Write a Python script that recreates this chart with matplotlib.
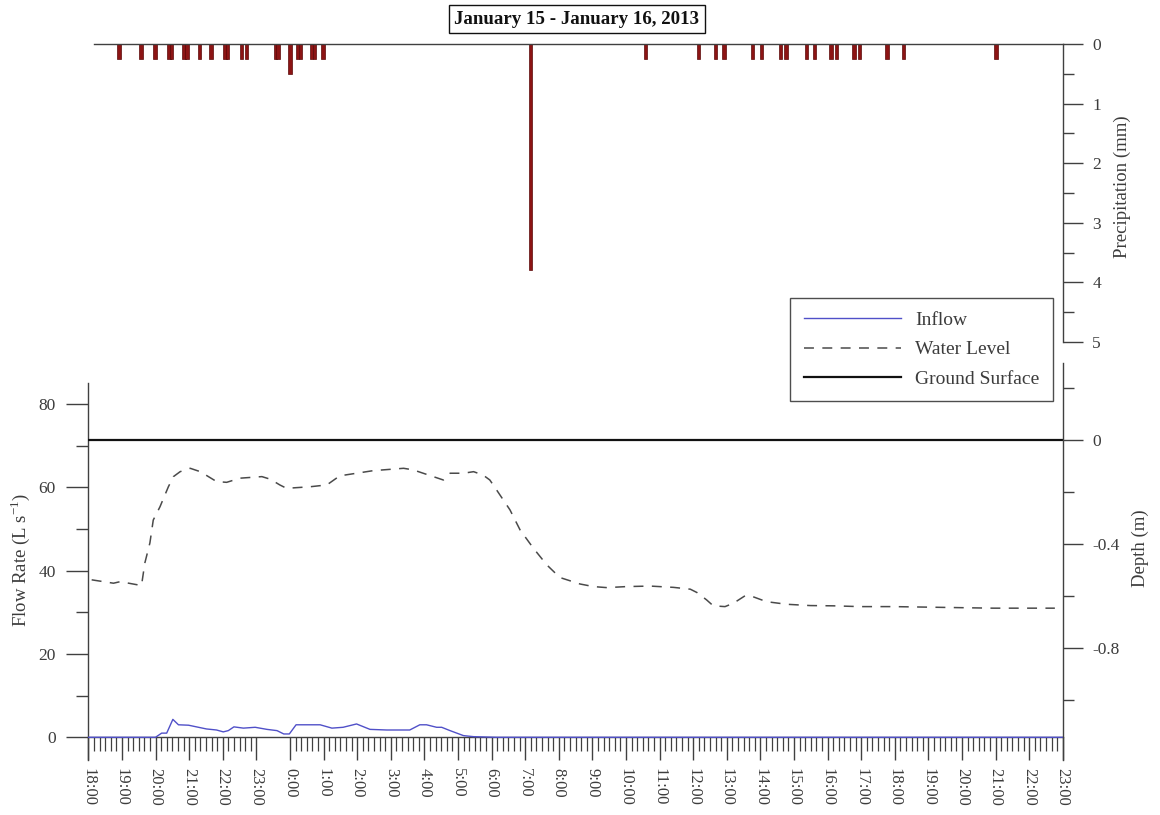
import matplotlib
matplotlib.use("Agg")
import matplotlib.pyplot as plt
import matplotlib.dates as mdates
from matplotlib.lines import Line2D
from matplotlib.ticker import FixedLocator, MultipleLocator, FuncFormatter
import pandas as pd

plt.rcParams["font.family"] = ["Liberation Serif", "DejaVu Serif"]
plt.rcParams["axes.unicode_minus"] = False
TXT = "#3c3c3c"
AX = "#404040"

# ---------------- data ----------------
t_start = "2013-01-15 18:00"
t_end = "2013-01-16 23:00"

rain_times = [
    "2013-01-15 18:55", "2013-01-15 19:34", "2013-01-15 19:59",
    "2013-01-15 20:24", "2013-01-15 20:29", "2013-01-15 20:51", "2013-01-15 20:56",
    "2013-01-15 21:19", "2013-01-15 21:39", "2013-01-15 22:04", "2013-01-15 22:09",
    "2013-01-15 22:34", "2013-01-15 22:43", "2013-01-15 23:34", "2013-01-15 23:39",
    "2013-01-16 00:00", "2013-01-16 00:14", "2013-01-16 00:19", "2013-01-16 00:39",
    "2013-01-16 00:44", "2013-01-16 00:59", "2013-01-16 07:10", "2013-01-16 10:35",
    "2013-01-16 12:10", "2013-01-16 12:40", "2013-01-16 12:55", "2013-01-16 13:46",
    "2013-01-16 14:02", "2013-01-16 14:36", "2013-01-16 14:46", "2013-01-16 15:22",
    "2013-01-16 15:37", "2013-01-16 16:06", "2013-01-16 16:16", "2013-01-16 16:47",
    "2013-01-16 16:57", "2013-01-16 17:46", "2013-01-16 18:16", "2013-01-16 21:01",
]
rain_mm = [
    0.25, 0.25, 0.25,
    0.25, 0.25, 0.25, 0.25,
    0.25, 0.25, 0.25, 0.25,
    0.25, 0.25, 0.25, 0.25,
    0.5, 0.25, 0.25, 0.25,
    0.25, 0.25, 3.8, 0.25,
    0.25, 0.25, 0.25, 0.25,
    0.25, 0.25, 0.25, 0.25,
    0.25, 0.25, 0.25, 0.25,
    0.25, 0.25, 0.25, 0.25,
]

flow_times = [
    "2013-01-15 18:00", "2013-01-15 20:00", "2013-01-15 20:11", "2013-01-15 20:20",
    "2013-01-15 20:31", "2013-01-15 20:41", "2013-01-15 20:59", "2013-01-15 21:31",
    "2013-01-15 21:49", "2013-01-15 22:01", "2013-01-15 22:10", "2013-01-15 22:20",
    "2013-01-15 22:37", "2013-01-15 22:58", "2013-01-15 23:19", "2013-01-15 23:37",
    "2013-01-15 23:49", "2013-01-15 23:59", "2013-01-16 00:11", "2013-01-16 00:54",
    "2013-01-16 01:15", "2013-01-16 01:35", "2013-01-16 01:59", "2013-01-16 02:23",
    "2013-01-16 02:53", "2013-01-16 03:34", "2013-01-16 03:52", "2013-01-16 04:04",
    "2013-01-16 04:22", "2013-01-16 04:31", "2013-01-16 04:46", "2013-01-16 05:10",
    "2013-01-16 05:28", "2013-01-16 06:09", "2013-01-16 23:00",
]
flow_lps = [
    0.0, 0.0, 1.0, 1.0,
    4.3, 3.0, 2.9, 2.0,
    1.75, 1.3, 1.6, 2.5,
    2.2, 2.4, 1.9, 1.6,
    0.8, 0.8, 3.0, 3.0,
    2.2, 2.4, 3.2, 1.9,
    1.75, 1.75, 3.0, 3.0,
    2.4, 2.4, 1.6, 0.4,
    0.15, 0.0, 0.0,
]

level_times = [
    "2013-01-15 18:06", "2013-01-15 18:45", "2013-01-15 18:57", "2013-01-15 19:35",
    "2013-01-15 19:41", "2013-01-15 19:50", "2013-01-15 19:56", "2013-01-15 20:08",
    "2013-01-15 20:23", "2013-01-15 20:32", "2013-01-15 20:44", "2013-01-15 21:02",
    "2013-01-15 21:20", "2013-01-15 21:49", "2013-01-15 22:07", "2013-01-15 22:31",
    "2013-01-15 23:10", "2013-01-15 23:25", "2013-01-15 23:42", "2013-01-15 23:54",
    "2013-01-16 00:36", "2013-01-16 01:06", "2013-01-16 01:29", "2013-01-16 01:59",
    "2013-01-16 02:29", "2013-01-16 02:59", "2013-01-16 03:23", "2013-01-16 03:40",
    "2013-01-16 04:16", "2013-01-16 04:34", "2013-01-16 04:46", "2013-01-16 05:10",
    "2013-01-16 05:28", "2013-01-16 05:45", "2013-01-16 05:57", "2013-01-16 06:09",
    "2013-01-16 06:33", "2013-01-16 06:51", "2013-01-16 07:15", "2013-01-16 07:39",
    "2013-01-16 08:02", "2013-01-16 08:38", "2013-01-16 09:02", "2013-01-16 09:26",
    "2013-01-16 10:01", "2013-01-16 10:43", "2013-01-16 11:25", "2013-01-16 11:55",
    "2013-01-16 12:07", "2013-01-16 12:24", "2013-01-16 12:36", "2013-01-16 12:57",
    "2013-01-16 13:12", "2013-01-16 13:33", "2013-01-16 13:47", "2013-01-16 14:11",
    "2013-01-16 14:47", "2013-01-16 15:29", "2013-01-16 16:10", "2013-01-16 16:58",
    "2013-01-16 17:57", "2013-01-16 18:57", "2013-01-16 19:56", "2013-01-16 20:56",
    "2013-01-16 21:56", "2013-01-16 22:46",
]
level_m = [
    -0.538, -0.551, -0.545, -0.560,
    -0.473, -0.396, -0.308, -0.257,
    -0.180, -0.141, -0.122, -0.109,
    -0.122, -0.160, -0.163, -0.147,
    -0.141, -0.151, -0.173, -0.186,
    -0.180, -0.173, -0.138, -0.128,
    -0.118, -0.113, -0.109, -0.115,
    -0.141, -0.154, -0.128, -0.128,
    -0.122, -0.135, -0.154, -0.192,
    -0.269, -0.346, -0.417, -0.481,
    -0.529, -0.554, -0.564, -0.568,
    -0.564, -0.562, -0.567, -0.574,
    -0.587, -0.615, -0.638, -0.641,
    -0.628, -0.599, -0.603, -0.622,
    -0.632, -0.637, -0.638, -0.641,
    -0.641, -0.643, -0.645, -0.647,
    -0.647, -0.647,
]
ground_level_m = 0.0

# ---------------- figure ----------------
W, H = 1160, 815
fig = plt.figure(figsize=(W / 100, H / 100), dpi=100)


def rect(x0, y0, x1, y1):
    return [x0 / W, 1 - y1 / H, (x1 - x0) / W, (y1 - y0) / H]


x0 = mdates.date2num(pd.Timestamp(t_start))
x1 = mdates.date2num(pd.Timestamp(t_end))

# ---- precipitation panel (hanging bars) ----
ax0 = fig.add_axes(rect(88.3, 44, 1062.7, 342))
rt = mdates.date2num(pd.to_datetime(rain_times))
ax0.bar(rt, rain_mm, width=6 / 1440, color="#8c1414", edgecolor="#5a0808",
        linewidth=0.5, align="center")
ax0.set_xlim(x0, x1)
ax0.set_ylim(5, 0)
for s in ("left", "bottom"):
    ax0.spines[s].set_visible(False)
ax0.spines["top"].set_bounds(mdates.date2num(pd.Timestamp("2013-01-15 18:10")), x1)
for s in ("top", "right"):
    ax0.spines[s].set_color(AX)
    ax0.spines[s].set_linewidth(1.0)
ax0.xaxis.set_visible(False)
ax0.yaxis.tick_right()
ax0.yaxis.set_major_locator(MultipleLocator(1))
ax0.yaxis.set_minor_locator(MultipleLocator(0.5))
ax0.tick_params(axis="y", which="major", length=14.4, width=1.0, color=AX,
                pad=7, labelsize=12.5, labelcolor=TXT)
ax0.tick_params(axis="y", which="minor", length=8, width=1.0, color=AX)
ax0.patch.set_alpha(0)

# ---- flow / depth panel ----
ax1 = fig.add_axes(rect(88.3, 363, 1062.7, 760))
ft = mdates.date2num(pd.to_datetime(flow_times))
ax1.plot(ft, flow_lps, color="#5050c8", lw=1.0, zorder=3)
ax1.set_xlim(x0, x1)
ax1.set_ylim(-5.45, 89.83)
ax1.spines["top"].set_visible(False)
ax1.spines["right"].set_visible(False)
ax1.spines["bottom"].set_position(("data", 0))
ax1.spines["left"].set_bounds(-5.45, 85.0)
for s in ("left", "bottom"):
    ax1.spines[s].set_color(AX)
    ax1.spines[s].set_linewidth(1.0)
ax1.yaxis.set_major_locator(FixedLocator([0, 20, 40, 60, 80]))
ax1.yaxis.set_minor_locator(FixedLocator([10, 30, 50, 70]))
ax1.tick_params(axis="y", which="major", length=15.5, width=1.0, color=AX,
                pad=8, labelsize=12.5, labelcolor=TXT)
ax1.tick_params(axis="y", which="minor", length=8.4, width=1.0, color=AX)

ax1.xaxis.set_major_locator(mdates.HourLocator(interval=1))


def hour_label(v, pos):
    d = mdates.num2date(v)
    return f"{d.hour}:{d.minute:02d}"


ax1.xaxis.set_major_formatter(FuncFormatter(hour_label))
minor = pd.date_range(t_start, t_end, freq="10min")
minor = [m for m in minor
         if not (pd.Timestamp("2013-01-15 23:00") < m < pd.Timestamp("2013-01-16 00:00"))]
ax1.xaxis.set_minor_locator(FixedLocator(mdates.date2num(minor)))
ax1.tick_params(axis="x", which="major", length=16.5, width=1.0, color=AX,
                pad=5.5, labelsize=12, labelcolor=TXT, labelrotation=-90)
ax1.tick_params(axis="x", which="minor", length=10, width=0.9, color=AX)

ax2 = ax1.twinx()
lt = mdates.date2num(pd.to_datetime(level_times))
ax2.plot(lt, level_m, color="#4a4a4a", lw=1.1, linestyle=(0, (6.5, 5.5)))
ax2.axhline(ground_level_m, color="#111111", lw=1.6)
ax2.set_ylim(-1.231, 0.296)
for s in ("left", "top", "bottom"):
    ax2.spines[s].set_visible(False)
ax2.spines["right"].set_color(AX)
ax2.spines["right"].set_linewidth(1.0)
ax2.yaxis.set_major_locator(FixedLocator([0, -0.4, -0.8]))
ax2.yaxis.set_minor_locator(FixedLocator([0.2, -0.2, -0.6, -1.0]))
ax2.yaxis.set_major_formatter(FuncFormatter(lambda v, p: f"{v:g}"))
ax2.tick_params(axis="y", which="major", length=14.4, width=1.0, color=AX,
                pad=7, labelsize=12.5, labelcolor=TXT)
ax2.tick_params(axis="y", which="minor", length=8, width=1.0, color=AX)

# ---- axis titles ----
fig.text(20 / W, 1 - 560 / H, r"Flow Rate (L s$^{\mathregular{-1}}$)", rotation=90,
         ha="center", va="center", fontsize=13.5, color=TXT)
fig.text(1140 / W, 1 - 548 / H, "Depth (m)", rotation=90,
         ha="center", va="center", fontsize=13.5, color=TXT)
fig.text(1122 / W, 1 - 187 / H, "Precipitation (mm)", rotation=90,
         ha="center", va="center", fontsize=13.5, color=TXT)

fig.text(577 / W, 1 - 19 / H, "January 15 - January 16, 2013", ha="center",
         va="center", fontsize=13.6, fontweight="bold", color="#111111",
         bbox=dict(boxstyle="square,pad=0.3", facecolor="white",
                   edgecolor="#111111", linewidth=1.0))

# ---- legend ----
handles = [
    Line2D([], [], color="#5050c8", lw=1.0),
    Line2D([], [], color="#4a4a4a", lw=1.1, linestyle=(0, (6.5, 5.5))),
    Line2D([], [], color="#111111", lw=1.6),
]
leg = fig.legend(handles, ["Inflow", "Water Level", "Ground Surface"],
                 loc="upper left", bbox_to_anchor=(790 / W, 1 - 298 / H),
                 fontsize=14, frameon=True, fancybox=False, handlelength=5.0,
                 handletextpad=0.75, labelspacing=0.6, borderpad=0.7,
                 borderaxespad=0)
leg.get_frame().set_edgecolor("#222222")
leg.get_frame().set_linewidth(1.0)
for t in leg.get_texts():
    t.set_color(TXT)

fig.savefig("out.png", dpi=100)
